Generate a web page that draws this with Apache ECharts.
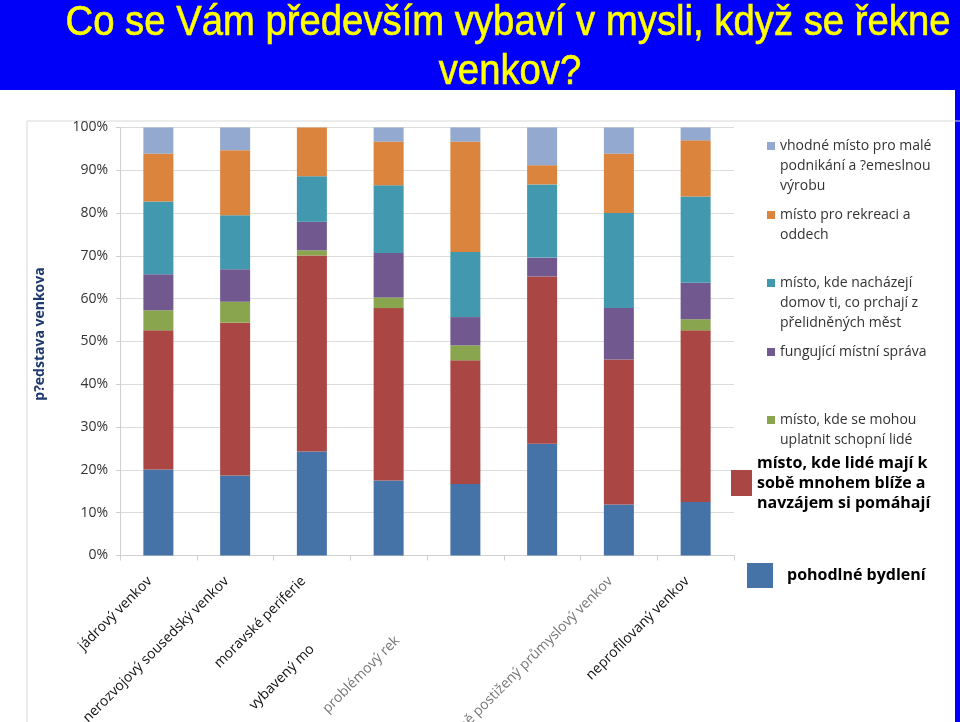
<!DOCTYPE html>
<html>
<head>
<meta charset="utf-8">
<script src="https://cdn.jsdelivr.net/npm/echarts@6/dist/echarts.min.js"></script>
<style>
  html, body { margin: 0; padding: 0; background: #0000fa; }
  #chart { width: 960px; height: 722px; }
</style>
</head>
<body>
<div id="chart"></div>
<script>
// kategorie (typy venkova)
var categories = ['jádrový venkov', 'nerozvojový sousedský venkov', 'moravské periferie',
  'vybavený mo', 'problémový rek', '', 'strukturálně postižený průmyslový venkov', 'neprofilovaný venkov'];

// hodnoty v %, odspodu nahoru
var bydleni    = [20.1, 18.7, 24.3, 17.5, 16.7, 26.1, 11.9, 12.5];
var blize      = [32.5, 35.7, 45.8, 40.3, 28.9, 39.1, 33.9, 40.1];
var schopni    = [4.7, 4.9, 1.2, 2.5, 3.5, 0, 0, 2.6];
var sprava     = [8.4, 7.6, 6.7, 10.4, 6.6, 4.4, 12.0, 8.5];
var domov      = [17.0, 12.6, 10.6, 15.8, 15.2, 17.1, 22.2, 20.2];
var rekreace   = [11.2, 15.2, 11.4, 10.2, 25.8, 4.5, 13.9, 13.1];
var podnikani  = [6.1, 5.3, 0, 3.3, 3.3, 8.8, 6.1, 3.0];

var seriesNames = [
  'pohodlné bydlení',
  'místo, kde lidé mají k sobě mnohem blíže a navzájem si pomáhají',
  'místo, kde se mohou uplatnit schopní lidé',
  'fungující místní správa',
  'místo, kde nacházejí domov ti, co prchají z přelidněných měst',
  'místo pro rekreaci a oddech',
  'vhodné místo pro malé podnikání a ?emeslnou výrobu'
];
var legendLines = [
  ['pohodlné bydlení'],
  ['místo, kde lidé mají k', 'sobě mnohem blíže a', 'navzájem si pomáhají'],
  ['místo, kde se mohou', 'uplatnit schopní lidé'],
  ['fungující místní správa'],
  ['místo, kde nacházejí', 'domov ti, co prchají z', 'přelidněných měst'],
  ['místo pro rekreaci a', 'oddech'],
  ['vhodné místo pro malé', 'podnikání a ?emeslnou', 'výrobu']
];
var values = [bydleni, blize, schopni, sprava, domov, rekreace, podnikani];
var yTicks = [0, 10, 20, 30, 40, 50, 60, 70, 80, 90, 100];
var titleLines = ['Co se Vám především vybaví v mysli, když se řekne', 'venkov?'];

var colors = ['#4572A7', '#AA4643', '#89A54E', '#71588F', '#4198AF', '#DB843D', '#93A9CF'];
var font = '"Open Sans", "Noto Sans", sans-serif';
var titleFont = '42px "Liberation Sans", sans-serif';

// titulek ve slajdu je uzsim pismem -> zuzit na sirku originalu
var cv = document.createElement('canvas').getContext('2d');
cv.font = titleFont;
var titleScale = 885 / cv.measureText(titleLines[0]).width;

var myChart = echarts.init(document.getElementById('chart'));

// male polozky legendy - ikona zarovnana s prvnim radkem
var LH = 20;
function smallLegend(i, left, firstLine) {
  var n = legendLines[i].length;
  return {
    data: [seriesNames[i]],
    left: left,
    top: firstLine - (2 * n - 1) * LH / 2,
    orient: 'vertical',
    padding: 0,
    itemWidth: 8,
    itemHeight: 8,
    icon: 'rect',
    selectedMode: false,
    formatter: function () {
      return new Array(n).join('\n') + legendLines[i].join('\n');
    },
    textStyle: { fontFamily: font, fontSize: 14, color: '#333', lineHeight: LH }
  };
}

var legends = [
  smallLegend(6, 767, 146),
  smallLegend(5, 767, 215),
  smallLegend(4, 767, 283),
  smallLegend(3, 767, 352),
  smallLegend(2, 767, 420),
  {
    data: [seriesNames[1]],
    left: 731, top: 448,
    padding: 0, itemWidth: 21, itemHeight: 26, icon: 'rect', selectedMode: false,
    formatter: function () { return legendLines[1].join('\n'); },
    textStyle: { fontFamily: font, fontSize: 16, fontWeight: 'bold', color: '#000', lineHeight: 20, padding: [10, 0, 0, 0] }
  },
  {
    data: [seriesNames[0]],
    left: 747, top: 561,
    padding: 0, itemWidth: 26, itemHeight: 25, icon: 'rect', selectedMode: false,
    formatter: function () { return legendLines[0].join('\n'); },
    textStyle: { fontFamily: font, fontSize: 16, fontWeight: 'bold', color: '#000', lineHeight: 20, padding: [0, 0, 9, 9] }
  }
];

// posun popisku (jako v originale)
var labelShift = { 3: 108, 4: 96 };
var labelFaded = { 4: true, 6: true };
var xData = categories.map(function (c, i) {
  return {
    value: c,
    textStyle: {
      padding: [0, labelShift[i] || 12, 0, 0],
      color: labelFaded[i] ? '#777' : '#111'
    }
  };
});

var series = seriesNames.map(function (name, i) {
  return {
    name: name,
    type: 'bar',
    stack: 'celkem',
    barWidth: 30,
    data: values[i],
    itemStyle: { color: colors[i] }
  };
});

myChart.setOption({
  backgroundColor: '#0000fa',
  animation: false,
  color: colors,
  graphic: [
    { type: 'rect', z: -100, shape: { x: 0, y: 90, width: 955, height: 632 }, style: { fill: '#fff' } },
    { type: 'rect', z: -99, shape: { x: 27, y: 121, width: 940, height: 640 }, style: { fill: 'none', stroke: '#d9d9d9', lineWidth: 1 } },
    { type: 'text', x: 508, y: 23, scaleX: titleScale, style: { text: titleLines[0], fill: '#ffff00',
      stroke: '#ffff00', lineWidth: 0.6, font: titleFont, textAlign: 'center', textVerticalAlign: 'middle' } },
    { type: 'text', x: 510, y: 72, scaleX: titleScale, style: { text: titleLines[1], fill: '#ffff00',
      stroke: '#ffff00', lineWidth: 0.6, font: titleFont, textAlign: 'center', textVerticalAlign: 'middle' } },
    { type: 'text', x: 40, y: 334, rotation: Math.PI / 2, style: { text: 'p?edstava venkova', fill: '#1F3A6E',
      font: 'bold 14px "Open Sans", sans-serif', textAlign: 'center', textVerticalAlign: 'middle' } }
  ],
  legend: legends,
  grid: { left: 120, right: 226, top: 127.5, bottom: 166.5, outerBoundsMode: 'none', containLabel: false },
  xAxis: {
    type: 'category',
    data: xData,
    axisLine: { lineStyle: { color: '#d0d0d0' } },
    axisTick: { show: true, length: 5, lineStyle: { color: '#d0d0d0' } },
    axisLabel: { interval: 0, rotate: 45, margin: 15, fontFamily: font, fontSize: 14 }
  },
  yAxis: {
    type: 'value',
    min: yTicks[0],
    max: yTicks[yTicks.length - 1],
    interval: 10,
    axisLine: { show: true, lineStyle: { color: '#d0d0d0' } },
    axisTick: { show: true, length: 4, lineStyle: { color: '#d0d0d0' } },
    splitLine: { lineStyle: { color: '#dcdcdc' } },
    axisLabel: { formatter: '{value}%', margin: 12, fontFamily: font, fontSize: 14, color: '#333' }
  },
  series: series
});
</script>
</body>
</html>
